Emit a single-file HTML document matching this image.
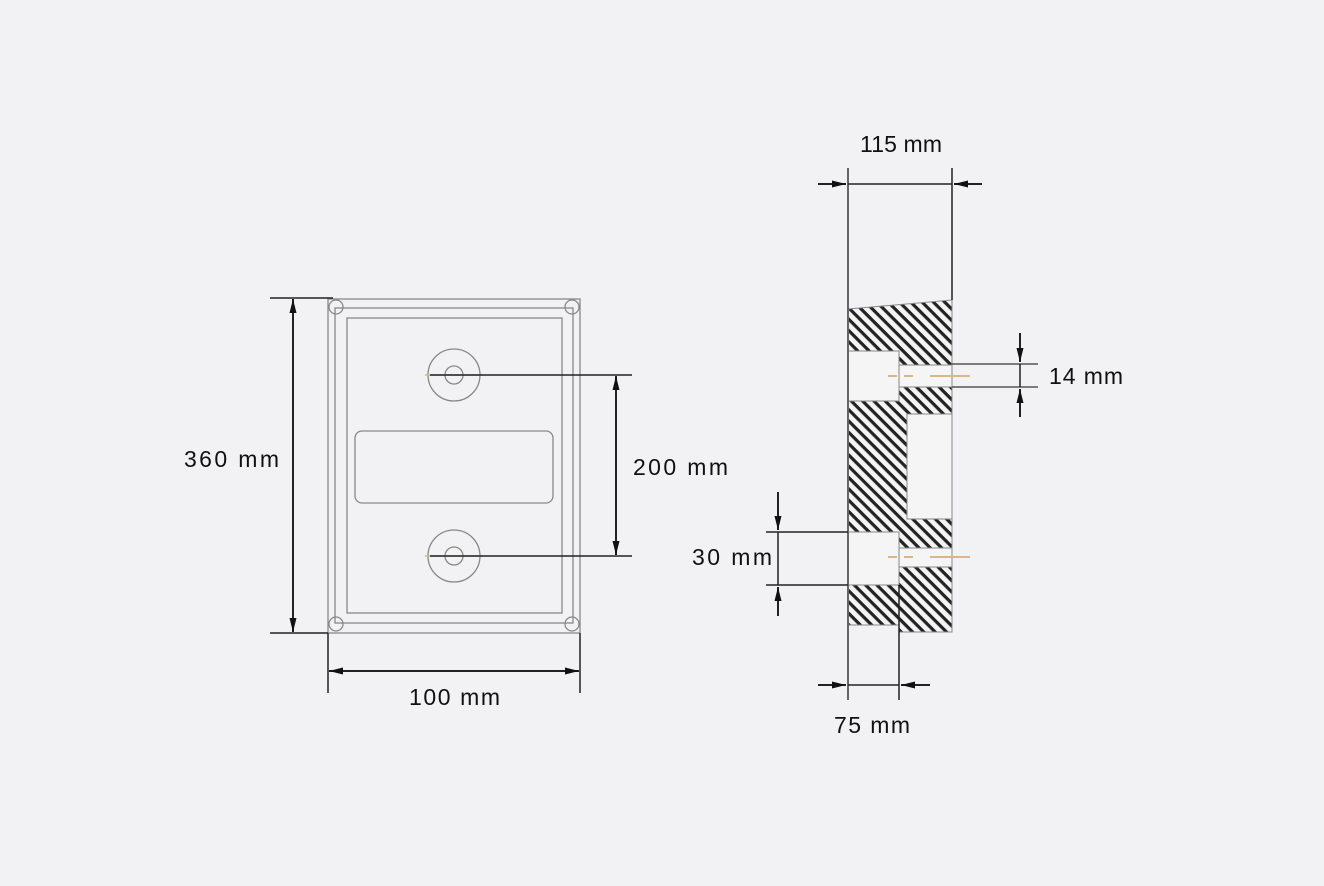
<!DOCTYPE html>
<html><head><meta charset="utf-8"><style>
html,body{margin:0;padding:0;background:#f2f2f4;}
svg{display:block;}
text{font-family:"Liberation Sans",sans-serif;font-size:23px;fill:#111;}
</style></head><body>
<svg width="1324" height="886" viewBox="0 0 1324 886" xmlns="http://www.w3.org/2000/svg">
<defs>
<pattern id="h" patternUnits="userSpaceOnUse" width="8" height="8" patternTransform="rotate(45)">
<rect width="8" height="8" fill="#f4f4f5"/>
<rect x="0" y="0" width="8" height="3.2" fill="#222"/>
</pattern>
<marker id="a" viewBox="0 0 14 10" refX="14" refY="5" markerWidth="14" markerHeight="10" markerUnits="userSpaceOnUse" orient="auto-start-reverse">
<path d="M0,1.5 L14,5 L0,8.5 Z" fill="#111"/>
</marker>
</defs>
<rect width="1324" height="886" fill="#f2f2f4"/>

<g fill="none" stroke="#888" stroke-width="1.3">
<rect x="328" y="299" width="252" height="334"/>
<rect x="335" y="308" width="238" height="315"/>
<rect x="347" y="318" width="215" height="295"/>
<circle cx="336" cy="307" r="7"/><circle cx="572" cy="307" r="7"/>
<circle cx="336" cy="624" r="7"/><circle cx="572" cy="624" r="7"/>
<rect x="355" y="431" width="198" height="72" rx="7"/>
<circle cx="454" cy="375" r="26"/><circle cx="454" cy="375" r="9"/>
<circle cx="454" cy="556" r="26"/><circle cx="454" cy="556" r="9"/>
</g>
<g stroke="#d8b88a" stroke-width="1.5">
<line x1="425" y1="375" x2="483" y2="375"/><line x1="425" y1="556" x2="483" y2="556"/>
</g>
<g stroke="#222" stroke-width="1.5" fill="none">
<line x1="430" y1="375" x2="632" y2="375"/>
<line x1="430" y1="556" x2="632" y2="556"/>
<line x1="270" y1="298" x2="333" y2="298"/>
<line x1="270" y1="633" x2="328" y2="633"/>
<line x1="328" y1="633" x2="328" y2="693"/>
<line x1="580" y1="633" x2="580" y2="693"/>
<line x1="293" y1="299" x2="293" y2="632" marker-start="url(#a)" marker-end="url(#a)" stroke-width="2"/>
<line x1="616" y1="376" x2="616" y2="555" marker-start="url(#a)" marker-end="url(#a)" stroke-width="2"/>
<line x1="329" y1="671" x2="579" y2="671" marker-start="url(#a)" marker-end="url(#a)" stroke-width="2"/>
</g>
<text x="184" y="467" textLength="95" lengthAdjust="spacing">360 mm</text>
<text x="633" y="475" textLength="95" lengthAdjust="spacing">200 mm</text>
<text x="409" y="705" textLength="91" lengthAdjust="spacing">100 mm</text>

<polygon points="848,309 952,300 952,632 899,632 899,625 848,625" fill="url(#h)" stroke="#888" stroke-width="1"/>
<g fill="#f5f5f6" stroke="#888" stroke-width="1">
<rect x="848" y="351" width="51" height="50"/>
<rect x="899" y="365" width="53" height="22"/>
<rect x="907" y="414" width="45" height="105"/>
<rect x="848" y="532" width="51" height="53"/>
<rect x="899" y="548" width="53" height="19"/>
</g>
<g stroke="#d8b88a" stroke-width="2">
<line x1="888" y1="376" x2="897" y2="376"/><line x1="904" y1="376" x2="913" y2="376"/><line x1="930" y1="376" x2="970" y2="376"/>
<line x1="888" y1="557" x2="897" y2="557"/><line x1="904" y1="557" x2="913" y2="557"/><line x1="930" y1="557" x2="970" y2="557"/>
</g>
<g stroke="#222" stroke-width="1.5" fill="none">
<line x1="848" y1="168" x2="848" y2="700" stroke="#666" stroke-width="2"/>
<line x1="952" y1="168" x2="952" y2="300"/>
<line x1="818" y1="184" x2="846" y2="184" marker-end="url(#a)" stroke-width="2"/>
<line x1="982" y1="184" x2="954" y2="184" marker-end="url(#a)" stroke-width="2"/>
<line x1="848" y1="184" x2="952" y2="184"/>
<line x1="952" y1="364" x2="1038" y2="364" stroke="#555"/>
<line x1="952" y1="387" x2="1038" y2="387" stroke="#555"/>
<line x1="1020" y1="333" x2="1020" y2="362" marker-end="url(#a)" stroke-width="2"/>
<line x1="1020" y1="417" x2="1020" y2="389" marker-end="url(#a)" stroke-width="2"/>
<line x1="1020" y1="364" x2="1020" y2="387"/>
<line x1="766" y1="532" x2="848" y2="532"/>
<line x1="766" y1="585" x2="848" y2="585"/>
<line x1="778" y1="492" x2="778" y2="530" marker-end="url(#a)" stroke-width="2"/>
<line x1="778" y1="616" x2="778" y2="587" marker-end="url(#a)" stroke-width="2"/>
<line x1="778" y1="532" x2="778" y2="585"/>
<line x1="899" y1="585" x2="899" y2="700"/>
<line x1="818" y1="685" x2="846" y2="685" marker-end="url(#a)" stroke-width="2"/>
<line x1="930" y1="685" x2="901" y2="685" marker-end="url(#a)" stroke-width="2"/>
<line x1="848" y1="685" x2="899" y2="685"/>
</g>
<text x="860" y="152" textLength="82" lengthAdjust="spacing">115 mm</text>
<text x="1049" y="384" textLength="74" lengthAdjust="spacing">14 mm</text>
<text x="692" y="565" textLength="80" lengthAdjust="spacing">30 mm</text>
<text x="834" y="733" textLength="76" lengthAdjust="spacing">75 mm</text>
</svg>
</body></html>
